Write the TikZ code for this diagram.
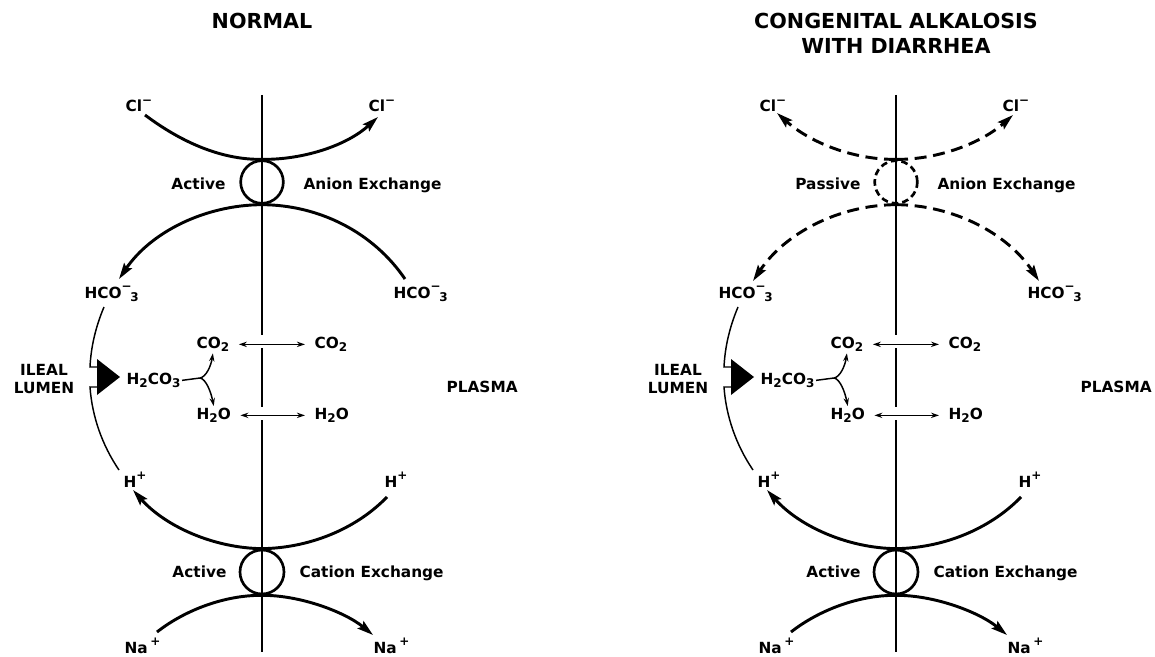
\documentclass[tikz,border=0pt]{standalone}
\usepackage{fontspec}
\setmainfont{DejaVu Sans}
\usetikzlibrary{arrows.meta}
\newcommand{\chemsub}[1]{\raisebox{-0.45ex}{\fontsize{9}{10}\selectfont #1}}
\newcommand{\chemsup}[1]{\raisebox{0.85ex}{\fontsize{9}{10}\selectfont #1}}

\begin{document}
\begin{tikzpicture}[
  x=0.75pt,
  y=-0.75pt,
  every node/.style={font=\fontsize{11.5}{14}\selectfont\bfseries, inner sep=1pt},
  heading/.style={font=\fontsize{15.5}{19}\selectfont\bfseries, align=center},
  membrane/.style={line width=2.2pt},
  carrier/.style={circle, draw, line width=2pt, minimum size=32pt, inner sep=0pt},
  flux/.style={line width=2.2pt, -{Stealth[length=12pt, width=7pt, inset=2pt]}},
  leak/.style={flux, dash pattern=on 9pt off 5pt},
  wall/.style={line width=1.1pt},
  diffuse/.style={line width=1.1pt, {Stealth[length=6pt, width=4pt]}-{Stealth[length=6pt, width=4pt]},
    shorten <=6pt, shorten >=6pt},
  branch/.style={line width=1.1pt, -{Stealth[length=6pt, width=4pt]}}
]
  \useasboundingbox (0,0) rectangle (1155,656);

  % ---- headings ----------------------------------------------------------
  \node[heading] (normal) at (262,21) {NORMAL};
  \node[heading] (alkalosis) at (896,33) {CONGENITAL ALKALOSIS\\WITH DIARRHEA};

  % ---- what both panels have in common -----------------------------------
  \foreach \p/\dx in {n/0, c/634} {
    \begin{scope}[xshift=\dx*0.75pt]
      % the membrane, broken where CO2 and H2O cross it
      \draw[membrane] (262,95) -- (262,335);
      \draw[membrane] (262,348) -- (262,407);
      \draw[membrane] (262,420) -- (262,652);

      % ions and regions
      \node[anchor=base] (clin\p) at (139,112) {Cl\chemsup{−}};
      \node[anchor=base] (clout\p) at (382,112) {Cl\chemsup{−}};
      \node[anchor=base west] (anionlbl\p) at (302,189) {Anion Exchange};
      \node[anchor=base west] (hcoin\p) at (83,298) {HCO\chemsup{−}\kern-1pt\chemsub{3}};
      \node[anchor=base west] (hcoout\p) at (392,298) {HCO\chemsup{−}\kern-1pt\chemsub{3}};
      \node[align=center] (lumen\p) at (44,379) {ILEAL\\LUMEN};
      \node[anchor=base west] (plasma\p) at (445,392) {PLASMA};
      \node[anchor=base west] (hin\p) at (122,487) {H\chemsup{+}};
      \node[anchor=base west] (hout\p) at (383,487) {H\chemsup{+}};
      \node[anchor=base west] (nain\p) at (123,653) {Na\,\chemsup{+}};
      \node[anchor=base west] (naout\p) at (372,653) {Na\,\chemsup{+}};

      % carbonic acid and its products
      \node[anchor=base west] (h2co3\p) at (125,384) {H\chemsub{2}CO\chemsub{3}};
      \node[anchor=base west] (co2in\p) at (195,348) {CO\chemsub{2}};
      \node[anchor=base west] (co2out\p) at (313,348) {CO\chemsub{2}};
      \node[anchor=base west] (h2oin\p) at (195,419) {H\chemsub{2}O};
      \node[anchor=base west] (h2oout\p) at (313,419) {H\chemsub{2}O};
      \coordinate (fork\p) at (200,378);
      \draw[wall] (h2co3\p.mid east) -- (fork\p);
      \draw[branch] (fork\p) .. controls (206,377) and (211,366) .. (co2in\p.south);
      \draw[branch] (fork\p) .. controls (206,379) and (211,392) .. (h2oin\p.north);
      \draw[diffuse] (co2in\p.mid east) -- (co2out\p.mid west);
      \draw[diffuse] (h2oin\p.mid east) -- (h2oout\p.mid west);

      % the lumen wall and the push into it
      \draw[wall] (104,307) .. controls (96,326) and (91,346) .. (90,367) -- (99,367);
      \draw[wall] (99,387) -- (90,387) .. controls (92,416) and (102,445) .. (119,470);
      \fill (97,359) -- (120,377) -- (97,395) -- cycle;

      % cation exchange
      \node[carrier, minimum size=33pt] (cation\p) at (262,572) {};
      \node[anchor=base east] (cactive\p) at (228,577) {Active};
      \node[anchor=base west] (cationlbl\p) at (298,577) {Cation Exchange};
      \coordinate (hsrc\p) at (387,497);
      \coordinate (hend\p) at (133,490);
      \coordinate (nasrc\p) at (157,632);
      \coordinate (naend\p) at (373,635);
      \draw[flux] (hsrc\p) .. controls (355,530) and (308,548) .. (cation\p.north)
        .. controls (213,548) and (165,526) .. (hend\p);
      \draw[flux] (nasrc\p) .. controls (185,610) and (225,595) .. (cation\p.south)
        .. controls (300,595) and (345,612) .. (naend\p);
    \end{scope}
  }

  % ---- normal: active anion exchange -------------------------------------
  \node[carrier] (anionn) at (262,182) {};
  \node[anchor=base east] (aactive) at (227,189) {Active};
  \coordinate (clsrcn) at (145,115);
  \coordinate (clendn) at (378,117);
  \coordinate (hcosrcn) at (405,279);
  \coordinate (hcoendn) at (119,279);
  \draw[flux] (clsrcn) .. controls (185,145) and (225,160) .. (anionn.north)
    .. controls (300,160) and (345,147) .. (clendn);
  \draw[flux] (hcosrcn) .. controls (373,232) and (319,205) .. (anionn.south)
    .. controls (205,205) and (151,232) .. (hcoendn);

  % ---- alkalosis: passive anion exchange ---------------------------------
  \node[carrier, dash pattern=on 5pt off 3pt] (anionc) at (896,182) {};
  \node[anchor=base east] (passive) at (862,189) {Passive};
  \coordinate (clendLc) at (777,113);
  \coordinate (clendRc) at (1013,115);
  \coordinate (hcoendLc) at (753,281);
  \coordinate (hcoendRc) at (1039,281);
  \draw[leak] (anionc.north) .. controls (858,160) and (813,145) .. (clendLc);
  \draw[leak] (anionc.north) .. controls (934,160) and (979,145) .. (clendRc);
  \draw[leak] (anionc.south) .. controls (839,205) and (785,233) .. (hcoendLc);
  \draw[leak] (anionc.south) .. controls (953,205) and (1007,233) .. (hcoendRc);
\end{tikzpicture}
\end{document}
